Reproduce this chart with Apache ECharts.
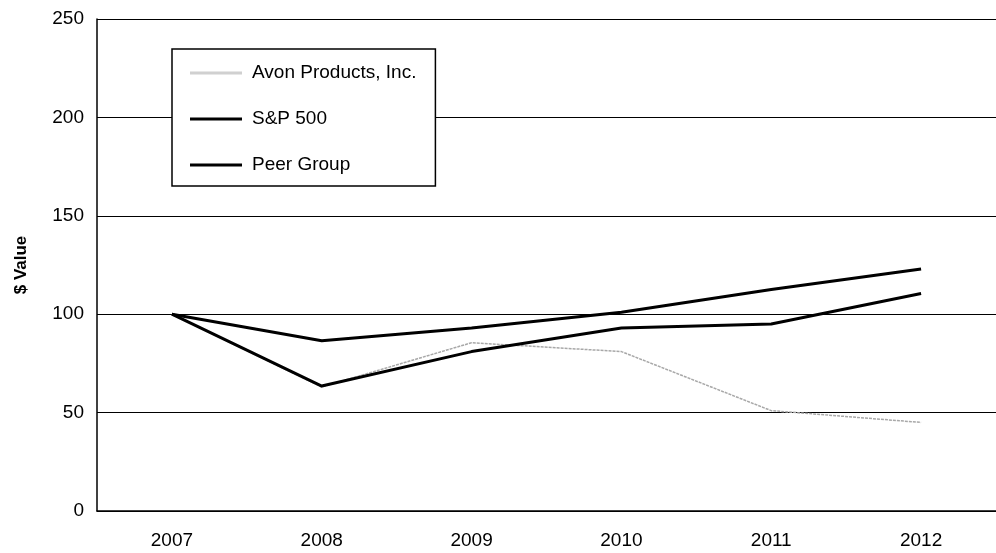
<!DOCTYPE html>
<html>
<head>
<meta charset="utf-8">
<script src="https://cdn.jsdelivr.net/npm/echarts@6/dist/echarts.min.js"></script>
<style>
    html, body { margin: 0; padding: 0; background: #fff; }
    #chart { width: 996px; height: 553px; }
</style>
</head>
<body>
<div id="chart"></div>
<script>
var years = ['2007', '2008', '2009', '2010', '2011', '2012'];
var avon = [100, 63, 85.5, 81, 51, 45];
var sp500 = [100, 63.5, 81, 93, 95, 110.5];
var peerGroup = [100, 86.5, 93, 101, 112.5, 123];

var font = '"Liberation Sans", Arial, sans-serif';

var myChart = echarts.init(document.getElementById('chart'));

var option = {
    backgroundColor: '#fff',
    animation: false,
    grid: {
        left: 97,
        top: 19,
        width: 912,
        height: 492
    },
    legend: {
        orient: 'vertical',
        left: 172,
        top: 49,
        padding: [14, 19, 11, 18],
        itemGap: 26,
        itemWidth: 52,
        itemHeight: 3,
        icon: 'rect',
        borderColor: '#000',
        borderWidth: 1.5,
        backgroundColor: '#fff',
        textStyle: { fontFamily: font, fontSize: 19, lineHeight: 20, color: '#000', padding: [0, 0, 0, 5] },
        data: [
            { name: 'Avon Products, Inc.', itemStyle: { color: '#d0d0d0' } },
            { name: 'S&P 500' },
            { name: 'Peer Group' }
        ]
    },
    xAxis: {
        type: 'category',
        data: years,
        boundaryGap: true,
        axisLine: { lineStyle: { color: '#000', width: 1.5 } },
        axisTick: { show: false },
        axisLabel: { color: '#000', fontFamily: font, fontSize: 19, margin: 20 }
    },
    yAxis: {
        type: 'value',
        min: 0,
        max: 250,
        interval: 50,
        name: '$ Value',
        nameLocation: 'middle',
        nameGap: 67,
        nameTextStyle: { fontFamily: font, fontSize: 17, fontWeight: 'bold', color: '#000' },
        axisLine: { show: true, lineStyle: { color: '#000', width: 1.5 } },
        axisTick: { show: false },
        axisLabel: { color: '#000', fontFamily: font, fontSize: 19, margin: 13 },
        splitLine: { lineStyle: { color: '#000', width: 1.2 } }
    },
    series: [
        {
            name: 'Avon Products, Inc.',
            type: 'line',
            data: avon,
            symbol: 'none',
            lineStyle: { color: '#a8a8a8', width: 1.5, type: [3, 1] },
            itemStyle: { color: '#a8a8a8' },
            z: 3
        },
        {
            name: 'S&P 500',
            type: 'line',
            data: sp500,
            symbol: 'none',
            lineStyle: { color: '#000', width: 3 },
            itemStyle: { color: '#000' },
            z: 4
        },
        {
            name: 'Peer Group',
            type: 'line',
            data: peerGroup,
            symbol: 'none',
            lineStyle: { color: '#000', width: 3 },
            itemStyle: { color: '#000' },
            z: 4
        }
    ]
};

myChart.setOption(option);
</script>
</body>
</html>
